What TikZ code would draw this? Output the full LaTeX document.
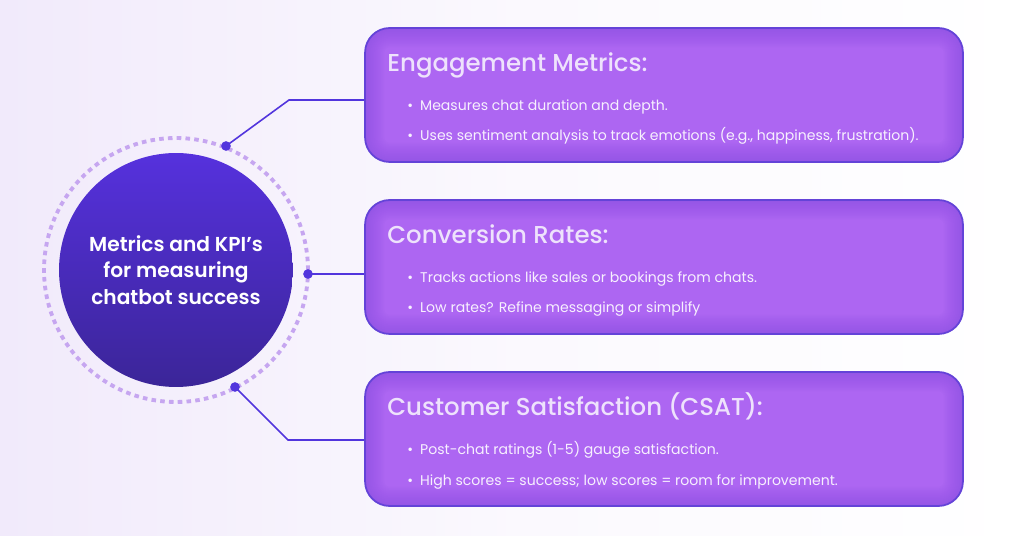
\documentclass[tikz,border=0pt]{standalone}
\usepackage{fontspec}
\setmainfont{Poppins}[BoldFont={Poppins SemiBold}]
\newfontfamily\medfont{Poppins Medium}
\usetikzlibrary{positioning}
\definecolor{bglav}{HTML}{F1EAFB}
\definecolor{hubtop}{HTML}{5631DD}
\definecolor{hubbot}{HTML}{3B2598}
\definecolor{ringc}{HTML}{C6A6F0}
\definecolor{pinc}{HTML}{5235DD}
\definecolor{cardfill}{HTML}{AD66F2}
\definecolor{cardglow}{HTML}{7040D4}
\definecolor{cardline}{HTML}{6443D8}
\definecolor{ttlc}{HTML}{EEE2FC}
\definecolor{itmc}{HTML}{F7F0FE}
\tikzset{
  hub/.style={circle, minimum size=4.68cm, top color=hubtop, bottom color=hubbot, text=white, align=center, font=\bfseries\fontsize{11.5}{15}\selectfont},
  ring/.style={draw=ringc, line width=2.2pt, dash pattern=on 2.6pt off 2.4pt},
  card/.style={draw=cardline, fill=cardfill, rounded corners=14pt, line width=1pt, minimum width=11.96cm, minimum height=2.68cm,
    path picture={\foreach \w in {2,4,...,22}
      \draw[draw=cardglow, line width=\w pt, opacity=0.035, rounded corners=14pt]
        (path picture bounding box.south west) rectangle (path picture bounding box.north east);}},
  ttl/.style={anchor=base west, text=ttlc, font=\medfont\fontsize{13.9}{16}\selectfont, inner sep=0pt},
  itm/.style={anchor=base west, text=itmc, font=\fontsize{8}{10}\selectfont, inner sep=0pt},
  pin/.style={circle, fill=pinc, inner sep=0pt, minimum size=5.5pt},
  conn/.style={draw=pinc, line width=0.9pt},
}

\begin{document}
\begin{tikzpicture}[x=0.02cm, y=-0.02cm]

% background
\fill[left color=bglav, right color=white, middle color=white!70!bglav] (0,0) rectangle (1024,536);
\useasboundingbox (0,0) rectangle (1024,536);

% hub
\node[hub] (hub) at (176,270) {Metrics and KPI’s\\for measuring\\chatbot success};
\draw[ring] (hub.center) circle (2.64cm);

\node[pin] (pin1) at (226,146) {};
\node[pin] (pin2) at (308,274) {};
\node[pin] (pin3) at (235,387) {};

% cards
\node[card] (eng) at (664,95) {};
\node[card] (conv) at (664,267) {};
\node[card] (csat) at (664,439) {};

\node[ttl] (engttl) at (387,72) {Engagement Metrics:};
\node[itm] (eng1) at (407,111) {\textbullet\hspace{4pt}Measures chat duration and depth.};
\node[itm] (eng2) at (407,141) {\textbullet\hspace{4pt}Uses sentiment analysis to track emotions (e.g., happiness, frustration).};

\node[ttl] (convttl) at (387,244) {Conversion Rates:};
\node[itm] (conv1) at (407,283) {\textbullet\hspace{4pt}Tracks actions like sales or bookings from chats.};
\node[itm] (conv2) at (407,313) {\textbullet\hspace{4pt}Low rates? Refine messaging or simplify};

\node[ttl] (csatttl) at (387,416) {Customer Satisfaction (CSAT):};
\node[itm] (csat1) at (407,455) {\textbullet\hspace{4pt}Post-chat ratings (1-5) gauge satisfaction.};
\node[itm] (csat2) at (407,485) {\textbullet\hspace{4pt}High scores = success; low scores = room for improvement.};

% connectors
\coordinate (k1) at (289,100);
\coordinate (k3) at (288,440);
\draw[conn] (pin1.center) -- (k1) -- (k1 -| eng.west);
\draw[conn] (pin2.center) -- (pin2 -| conv.west);
\draw[conn] (pin3.center) -- (k3) -- (k3 -| csat.west);

\end{tikzpicture}
\end{document}
